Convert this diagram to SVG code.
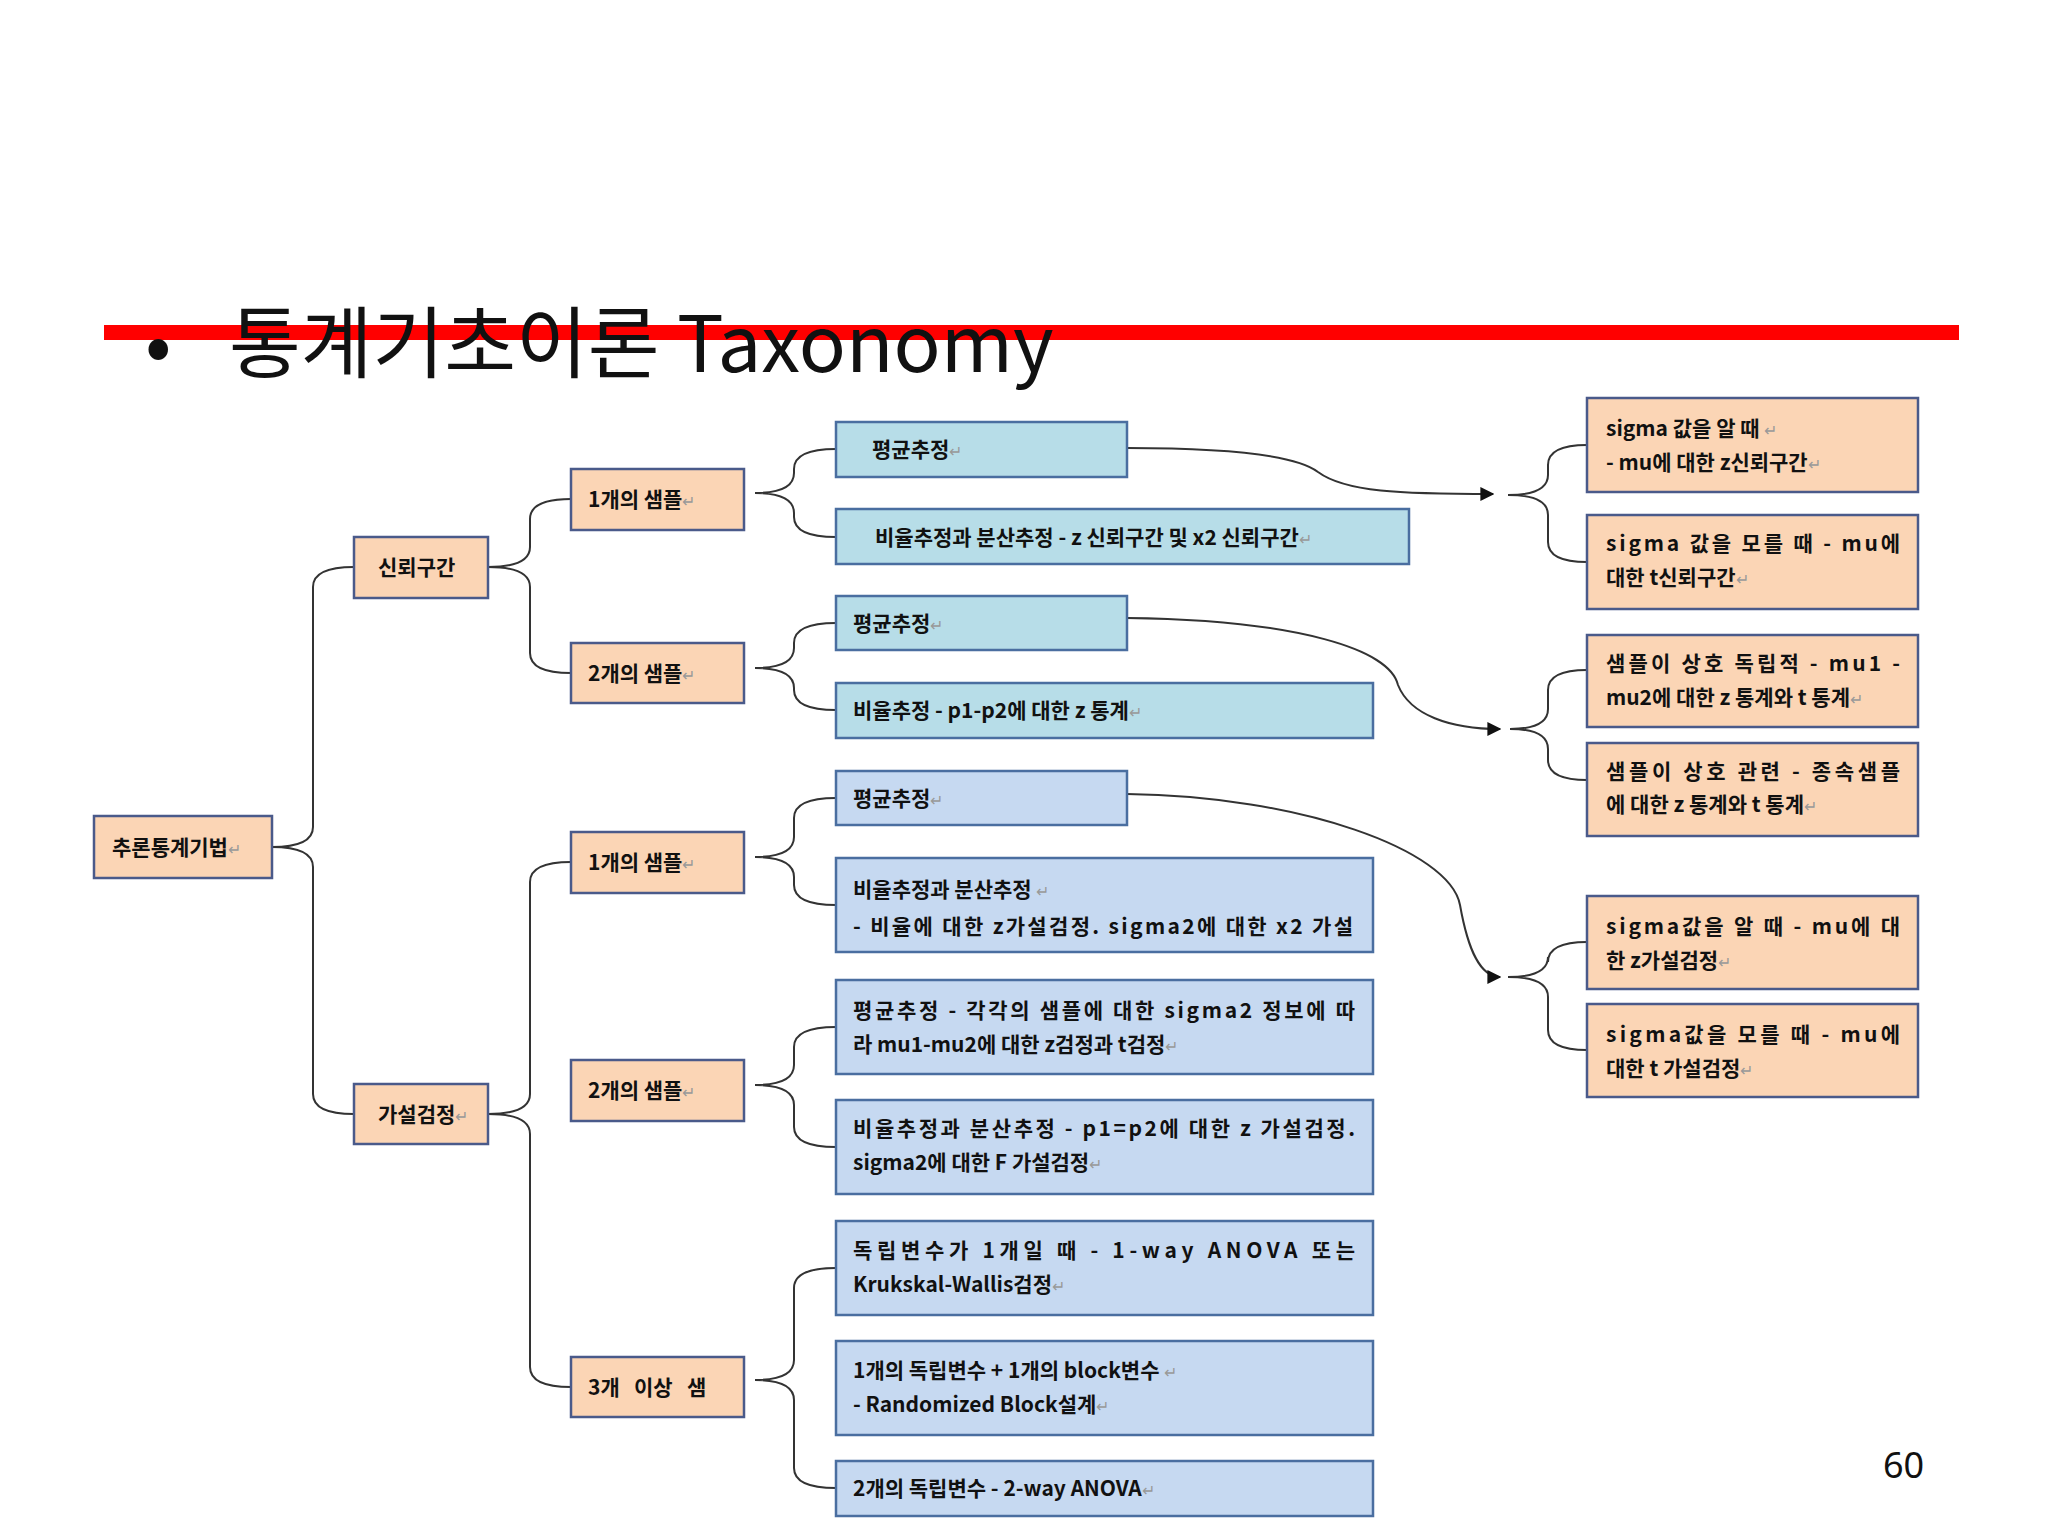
<svg xmlns="http://www.w3.org/2000/svg" width="2048" height="1536" viewBox="0 0 2048 1536">
<style>
.o{fill:#fbd5b5;stroke:#4a5a8a;stroke-width:2.5}
.c{fill:#b7dde8;stroke:#4a6ea0;stroke-width:2.5}
.b{fill:#c6d9f1;stroke:#4a6ea0;stroke-width:2.5}
text{font-family:"Noto Sans CJK KR","Noto Sans",sans-serif;font-size:21px;font-weight:600;fill:#111}
.m{fill:#999;font-weight:400;font-size:16px}
.ln{fill:none;stroke:#333;stroke-width:2}
</style>
<defs><marker id="a" viewBox="0 0 10 10" refX="9" refY="5" markerWidth="7" markerHeight="7" orient="auto"><path d="M0,0L10,5L0,10z" fill="#111"/></marker></defs>
<rect width="2048" height="1536" fill="#fff"/>
<rect x="104" y="325" width="1855" height="15" fill="#ff0000"/>
<text x="145" y="372" style="font-size:78px;font-weight:400;font-family:'Noto Sans CJK KR',sans-serif">•</text>
<text x="229" y="372" style="font-size:78px;font-weight:400;font-family:'Noto Sans CJK KR',sans-serif">통계기초이론 Taxonomy</text>
<text x="1883" y="1478" style="font-size:36px;font-weight:400;font-family:'Noto Sans','Noto Sans CJK KR',sans-serif">60</text>
<g id="connectors">
<path class="ln" d="M272,847 Q313,847 313,827 L313,587 Q313,567 354,567 M272,847 Q313,847 313,867 L313,1094 Q313,1114 354,1114"/>
<path class="ln" d="M488,567 Q530,567 530,547 L530,519 Q530,499 571,499 M488,567 Q530,567 530,587 L530,653 Q530,673 571,673"/>
<path class="ln" d="M488,1114 Q530,1114 530,1094 L530,882 Q530,862 571,862 M488,1114 Q530,1114 530,1134 L530,1367 Q530,1387 571,1387"/>
<path class="ln" d="M755,493 Q794,493 794,473 L794,469 Q794,449 836,449 M755,493 Q794,493 794,513 L794,517 Q794,537 836,537"/>
<path class="ln" d="M755,668 Q794,668 794,648 L794,643 Q794,623 836,623 M755,668 Q794,668 794,688 L794,690 Q794,710 836,710"/>
<path class="ln" d="M755,857 Q794,857 794,837 L794,818 Q794,798 836,798 M755,857 Q794,857 794,877 L794,885 Q794,905 836,905"/>
<path class="ln" d="M755,1085 Q794,1085 794,1065 L794,1047 Q794,1027 836,1027 M755,1085 Q794,1085 794,1105 L794,1127 Q794,1147 836,1147"/>
<path class="ln" d="M755,1380 Q794,1380 794,1360 L794,1288 Q794,1268 836,1268 M755,1380 Q794,1380 794,1400 L794,1468 Q794,1488 836,1488"/>
<path class="ln" d="M1508,495 Q1548,495 1548,475 L1548,465 Q1548,445 1587,445 M1508,495 Q1548,495 1548,515 L1548,542 Q1548,562 1587,562"/>
<path class="ln" d="M1510,729 Q1548,729 1548,709 L1548,690 Q1548,670 1587,670 M1510,729 Q1548,729 1548,749 L1548,760 Q1548,780 1587,780"/>
<path class="ln" d="M1508,977 Q1548,977 1548,957 L1548,962 Q1548,942 1587,942 M1508,977 Q1548,977 1548,997 L1548,1030 Q1548,1050 1587,1050"/>
<path class="ln" marker-end="url(#a)" d="M1127,448 C1250,448 1300,458 1318,472 C1345,492 1400,494 1493,494"/>
<path class="ln" marker-end="url(#a)" d="M1127,618 C1300,620 1390,650 1398,685 C1410,715 1450,729 1500,729"/>
<path class="ln" marker-end="url(#a)" d="M1127,794 C1300,796 1450,850 1460,905 C1468,950 1480,977 1500,977"/>
</g>
<g id="n1"><rect class="o" x="94" y="816" width="178" height="62"/><text x="112" y="855">추론통계기법<tspan class="m">↵</tspan></text></g>
<g id="n2"><rect class="o" x="354" y="537" width="134" height="61"/><text x="378" y="575">신뢰구간</text></g>
<g id="n3"><rect class="o" x="354" y="1084" width="134" height="60"/><text x="378" y="1122">가설검정<tspan class="m">↵</tspan></text></g>
<g id="n4"><rect class="o" x="571" y="469" width="173" height="61"/><text x="588" y="507">1개의 샘플<tspan class="m">↵</tspan></text></g>
<g id="n5"><rect class="o" x="571" y="643" width="173" height="60"/><text x="588" y="681">2개의 샘플<tspan class="m">↵</tspan></text></g>
<g id="n6"><rect class="o" x="571" y="832" width="173" height="61"/><text x="588" y="870">1개의 샘플<tspan class="m">↵</tspan></text></g>
<g id="n7"><rect class="o" x="571" y="1060" width="173" height="61"/><text x="588" y="1098">2개의 샘플<tspan class="m">↵</tspan></text></g>
<g id="n8"><rect class="o" x="571" y="1357" width="173" height="60"/><text x="588" y="1395" xml:space="preserve">3개   이상   샘</text></g>
<g id="n9"><rect class="c" x="836" y="422" width="291" height="55"/><text x="872" y="457">평균추정<tspan class="m">↵</tspan></text></g>
<g id="n10"><rect class="c" x="836" y="509" width="573" height="55"/><text x="875" y="545">비율추정과 분산추정 - z 신뢰구간 및 x2 신뢰구간<tspan class="m">↵</tspan></text></g>
<g id="n11"><rect class="c" x="836" y="596" width="291" height="54"/><text x="853" y="631">평균추정<tspan class="m">↵</tspan></text></g>
<g id="n12"><rect class="c" x="836" y="683" width="537" height="55"/><text x="853" y="718">비율추정 - p1-p2에 대한 z 통계<tspan class="m">↵</tspan></text></g>
<g id="n13"><rect class="b" x="836" y="771" width="291" height="54"/><text x="853" y="806">평균추정<tspan class="m">↵</tspan></text></g>
<g id="n14"><rect class="b" x="836" y="858" width="537" height="94"/><text x="853" y="897">비율추정과 분산추정 <tspan class="m">↵</tspan></text><text x="853" y="934" textLength="500" lengthAdjust="spacing">- 비율에 대한 z가설검정. sigma2에 대한 x2 가설</text></g>
<g id="n15"><rect class="b" x="836" y="980" width="537" height="94"/><text x="853" y="1018" textLength="502" lengthAdjust="spacing">평균추정 - 각각의 샘플에 대한 sigma2 정보에 따</text><text x="853" y="1052">라 mu1-mu2에 대한 z검정과 t검정<tspan class="m">↵</tspan></text></g>
<g id="n16"><rect class="b" x="836" y="1100" width="537" height="94"/><text x="853" y="1136" textLength="502" lengthAdjust="spacing">비율추정과 분산추정 - p1=p2에 대한 z 가설검정.</text><text x="853" y="1170">sigma2에 대한 F 가설검정<tspan class="m">↵</tspan></text></g>
<g id="n17"><rect class="b" x="836" y="1221" width="537" height="94"/><text x="853" y="1258" textLength="502" lengthAdjust="spacing">독립변수가 1개일 때 - 1-way ANOVA 또는</text><text x="853" y="1292">Krukskal-Wallis검정<tspan class="m">↵</tspan></text></g>
<g id="n18"><rect class="b" x="836" y="1341" width="537" height="94"/><text x="853" y="1378">1개의 독립변수 + 1개의 block변수 <tspan class="m">↵</tspan></text><text x="853" y="1412">- Randomized Block설계<tspan class="m">↵</tspan></text></g>
<g id="n19"><rect class="b" x="836" y="1461" width="537" height="55"/><text x="853" y="1496">2개의 독립변수 - 2-way ANOVA<tspan class="m">↵</tspan></text></g>
<g id="n20"><rect class="o" x="1587" y="398" width="331" height="94"/><text x="1606" y="436">sigma 값을 알 때 <tspan class="m">↵</tspan></text><text x="1606" y="470">- mu에 대한 z신뢰구간<tspan class="m">↵</tspan></text></g>
<g id="n21"><rect class="o" x="1587" y="515" width="331" height="94"/><text x="1606" y="551" textLength="294" lengthAdjust="spacing">sigma 값을 모를 때 - mu에</text><text x="1606" y="585">대한 t신뢰구간<tspan class="m">↵</tspan></text></g>
<g id="n22"><rect class="o" x="1587" y="635" width="331" height="92"/><text x="1606" y="671" textLength="294" lengthAdjust="spacing">샘플이 상호 독립적 - mu1 -</text><text x="1606" y="705">mu2에 대한 z 통계와 t 통계<tspan class="m">↵</tspan></text></g>
<g id="n23"><rect class="o" x="1587" y="743" width="331" height="93"/><text x="1606" y="779" textLength="294" lengthAdjust="spacing">샘플이 상호 관련 - 종속샘플</text><text x="1606" y="812">에 대한 z 통계와 t 통계<tspan class="m">↵</tspan></text></g>
<g id="n24"><rect class="o" x="1587" y="896" width="331" height="93"/><text x="1606" y="934" textLength="294" lengthAdjust="spacing">sigma값을 알 때 - mu에 대</text><text x="1606" y="968">한 z가설검정<tspan class="m">↵</tspan></text></g>
<g id="n25"><rect class="o" x="1587" y="1004" width="331" height="93"/><text x="1606" y="1042" textLength="294" lengthAdjust="spacing">sigma값을 모를 때 - mu에</text><text x="1606" y="1076">대한 t 가설검정<tspan class="m">↵</tspan></text></g>
</svg>
